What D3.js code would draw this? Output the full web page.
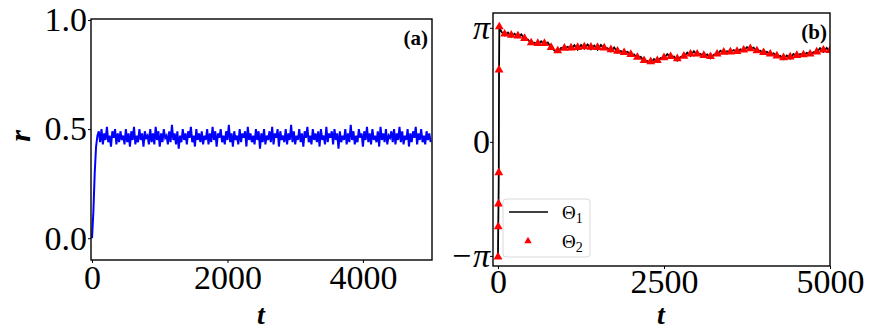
<!DOCTYPE html>
<html lang="en">
<head>
<meta charset="utf-8">
<title>r(t) and Theta(t)</title>
<script src="https://cdn.jsdelivr.net/npm/d3@7"></script>
<style>
  body { margin: 0; background: #fff; }
  svg { display: block; }
  text { font-family: "Liberation Serif", "Times New Roman", Times, serif; fill: #000; }
</style>
</head>
<body>
<script>

// panel (a): order parameter r, sampled every 20 time units from t = 0
var rStep = 20;
var rValues = [
  0.00, 0.12, 0.30, 0.42, 0.47,
  0.49,0.44,0.50,0.43,0.48,0.45,0.51,0.44,0.47,0.42,0.49,0.46,0.50,0.43,0.48,0.44,0.49,0.45,0.47,0.43,
  0.50,0.44,0.48,0.42,0.49,0.45,0.51,0.43,0.47,0.44,0.50,0.45,0.48,0.42,0.49,0.46,0.47,0.43,0.50,0.44,
  0.48,0.43,0.51,0.45,0.49,0.42,0.48,0.44,0.50,0.46,0.47,0.43,0.49,0.44,0.52,0.45,0.48,0.43,0.49,0.41,
  0.47,0.44,0.50,0.45,0.48,0.43,0.49,0.46,0.51,0.44,0.47,0.42,0.50,0.45,0.48,0.44,0.49,0.43,0.47,0.45,
  0.50,0.43,0.48,0.44,0.51,0.45,0.49,0.42,0.48,0.46,0.50,0.44,0.47,0.43,0.49,0.45,0.52,0.44,0.48,0.42,
  0.49,0.45,0.47,0.43,0.50,0.44,0.48,0.46,0.49,0.42,0.51,0.45,0.48,0.44,0.47,0.43,0.50,0.45,0.49,0.41,
  0.48,0.44,0.50,0.43,0.47,0.45,0.49,0.44,0.51,0.43,0.48,0.46,0.50,0.42,0.49,0.45,0.47,0.44,0.50,0.43,
  0.48,0.45,0.52,0.44,0.49,0.43,0.47,0.45,0.50,0.44,0.48,0.42,0.49,0.46,0.51,0.44,0.47,0.43,0.50,0.45,
  0.48,0.44,0.49,0.42,0.50,0.45,0.47,0.43,0.51,0.44,0.48,0.46,0.49,0.43,0.50,0.45,0.48,0.41,0.49,0.44,
  0.47,0.45,0.50,0.43,0.48,0.44,0.52,0.45,0.49,0.43,0.47,0.44,0.50,0.46,0.48,0.42,0.49,0.45,0.51,0.44,
  0.48,0.43,0.50,0.45,0.47,0.44,0.49,0.42,0.51,0.45,0.48,0.44,0.50,0.43,0.47,0.46,0.49,0.44,0.50,0.43,
  0.48,0.45,0.51,0.44,0.49,0.43,0.47,0.45,0.50,0.42,0.48,0.44,0.49,0.46,0.51,0.43,0.48,0.45,0.50,0.44,
  0.47,0.43,0.49,0.45,0.48,0.44
];
var rTicks = [0, 0.5, 1.0];
var tTicksA = [0, 2000, 4000];

// panel (b): phases, a short transient then regular samples
var transientT = [0, 4, 8, 12, 16, 20];
var transient1 = [-3.14, -2.30, -1.70, -0.85, 2.00, 3.15];
var transient2 = [-3.17, -2.34, -1.71, -0.85, 1.98, 3.17];
// theta1 every 50 time units from t = 50
var step1 = 50;
var theta1 = [
  3.04,2.93,3.01,2.90,2.98,2.88,2.96,2.84,2.82,2.71,
  2.73,2.68,2.77,2.69,2.74,2.60,2.52,2.47,2.59,2.58,
  2.62,2.55,2.66,2.54,2.67,2.57,2.68,2.55,2.65,2.54,
  2.67,2.57,2.58,2.49,2.60,2.46,2.50,2.45,2.48,2.39,
  2.41,2.31,2.34,2.22,2.23,2.17,2.28,2.20,2.31,2.30,
  2.42,2.33,2.35,2.24,2.34,2.34,2.46,2.37,2.50,2.39,
  2.42,2.36,2.41,2.30,2.40,2.40,2.51,2.45,2.50,2.47,
  2.53,2.46,2.55,2.50,2.61,2.56,2.60,2.49,2.51,2.44,
  2.48,2.40,2.44,2.35,2.37,2.28,2.38,2.29,2.42,2.36,
  2.42,2.38,2.45,2.40,2.47,2.46,2.58,2.48,2.59,2.48
];
// theta2 every 100 time units from t = 100
var step2 = 100;
var theta2 = [
  2.97,2.94,2.92,2.85,2.73,2.71,2.71,2.60,2.51,2.58,
  2.59,2.60,2.62,2.61,2.60,2.59,2.54,2.50,2.46,2.41,
  2.33,2.24,2.21,2.24,2.32,2.35,2.29,2.36,2.42,2.42,
  2.38,2.35,2.42,2.47,2.48,2.49,2.53,2.57,2.51,2.46,
  2.42,2.37,2.32,2.34,2.38,2.40,2.42,2.48,2.53,2.52
];
var thetaTicks = [-Math.PI, 0, Math.PI];
var thetaTickLabels = ["\u2212\u03c0", "0", "\u03c0"];
var tTicksB = [0, 2500, 5000];

var w = 872, h = 336;

var svg = d3.select("body").append("svg")
  .attr("width", w)
  .attr("height", h);

var defs = svg.append("defs");

// ---------- panel (a) ----------
var boxA = {left: 91, top: 19, right: 432, bottom: 260};

var xA = d3.scaleLinear().domain([-15, 5020]).range([boxA.left, boxA.right]);
var yA = d3.scaleLinear().domain([-0.1, 1.0]).range([boxA.bottom, 20]);

defs.append("clipPath").attr("id", "clipA")
  .append("rect")
  .attr("x", boxA.left).attr("y", boxA.top)
  .attr("width", boxA.right - boxA.left).attr("height", boxA.bottom - boxA.top);

var lineA = d3.line()
  .x(function(d, i) { return xA(i * rStep); })
  .y(function(d) { return yA(d); });

svg.append("path")
  .datum(rValues)
  .attr("clip-path", "url(#clipA)")
  .attr("d", lineA)
  .attr("fill", "none")
  .attr("stroke", "#0000ff")
  .attr("stroke-width", 2);

svg.append("rect")
  .attr("x", boxA.left).attr("y", boxA.top)
  .attr("width", boxA.right - boxA.left).attr("height", boxA.bottom - boxA.top)
  .attr("fill", "none").attr("stroke", "#000").attr("stroke-width", 1.4);

var axAy = svg.append("g")
  .attr("transform", "translate(" + boxA.left + ",0)")
  .call(d3.axisLeft(yA).tickValues(rTicks).tickFormat(d3.format(".1f")).tickSize(3).tickPadding(1));

var axAx = svg.append("g")
  .attr("transform", "translate(0," + boxA.bottom + ")")
  .call(d3.axisBottom(xA).tickValues(tTicksA).tickFormat(d3.format("d")).tickSize(3).tickPadding(2));

// ---------- panel (b) ----------
var boxB = {left: 493, top: 13, right: 830, bottom: 266};

var xB = d3.scaleLinear().domain([-75, 5000]).range([boxB.left, boxB.right]);
var yB = d3.scaleLinear().domain([-3.42, 3.55]).range([boxB.bottom, boxB.top]);

defs.append("clipPath").attr("id", "clipB")
  .append("rect")
  .attr("x", boxB.left).attr("y", boxB.top)
  .attr("width", boxB.right - boxB.left).attr("height", boxB.bottom - boxB.top);

var series1 = transientT.map(function(t, i) { return [t, transient1[i]]; })
  .concat(theta1.map(function(v, i) { return [(i + 1) * step1, v]; }));
var series2 = transientT.map(function(t, i) { return [t, transient2[i]]; })
  .concat(theta2.map(function(v, i) { return [(i + 1) * step2, v]; }));

var lineB = d3.line()
  .x(function(d) { return xB(d[0]); })
  .y(function(d) { return yB(d[1]); });

svg.append("path")
  .datum(series1)
  .attr("clip-path", "url(#clipB)")
  .attr("d", lineB)
  .attr("fill", "none")
  .attr("stroke", "#000")
  .attr("stroke-width", 1.8);

var tri = d3.symbol().type(d3.symbolTriangle).size(34);

svg.append("g")
  .attr("clip-path", "url(#clipB)")
  .selectAll("path")
  .data(series2)
  .enter()
  .append("path")
  .attr("d", tri)
  .attr("transform", function(d) { return "translate(" + xB(d[0]) + "," + yB(d[1]) + ")"; })
  .attr("fill", "#ff0000");

svg.append("rect")
  .attr("x", boxB.left).attr("y", boxB.top)
  .attr("width", boxB.right - boxB.left).attr("height", boxB.bottom - boxB.top)
  .attr("fill", "none").attr("stroke", "#000").attr("stroke-width", 1.4);

var axBy = svg.append("g")
  .attr("transform", "translate(" + boxB.left + ",0)")
  .call(d3.axisLeft(yB).tickValues(thetaTicks)
    .tickFormat(function(d, i) { return thetaTickLabels[i]; })
    .tickSize(3).tickPadding(0));

var axBx = svg.append("g")
  .attr("transform", "translate(0," + boxB.bottom + ")")
  .call(d3.axisBottom(xB).tickValues(tTicksB).tickFormat(d3.format("d")).tickSize(3).tickPadding(0));

// axis styling
[axAy, axAx, axBy, axBx].forEach(function(g) {
  g.attr("font-family", null);
  g.select(".domain").remove();
  g.selectAll(".tick line").attr("stroke", "#000").attr("stroke-width", 1);
  g.selectAll(".tick text")
    .style("font-family", "'Liberation Serif', 'Times New Roman', serif")
    .attr("font-size", 34)
    .attr("fill", "#000");
});
axBy.selectAll(".tick text")
  .filter(function(d) { return d !== 0; })
  .attr("font-style", "italic");

// axis titles
svg.append("text")
  .attr("transform", "translate(30,136) rotate(-90)")
  .attr("text-anchor", "middle")
  .attr("font-size", 30).attr("font-weight", "bold").attr("font-style", "italic")
  .text("r");

svg.append("text")
  .attr("x", 261).attr("y", 324)
  .attr("text-anchor", "middle")
  .attr("font-size", 28).attr("font-weight", "bold").attr("font-style", "italic")
  .text("t");

svg.append("text")
  .attr("x", 661).attr("y", 324)
  .attr("text-anchor", "middle")
  .attr("font-size", 28).attr("font-weight", "bold").attr("font-style", "italic")
  .text("t");

// panel tags
svg.append("text")
  .attr("x", 428).attr("y", 45)
  .attr("text-anchor", "end")
  .attr("font-size", 21).attr("font-weight", "bold")
  .text("(a)");

svg.append("text")
  .attr("x", 827).attr("y", 39)
  .attr("text-anchor", "end")
  .attr("font-size", 21).attr("font-weight", "bold")
  .text("(b)");

// legend
var legend = svg.append("g");
legend.append("rect")
  .attr("x", 503).attr("y", 199)
  .attr("width", 87).attr("height", 58)
  .attr("rx", 3)
  .attr("fill", "#fff").attr("fill-opacity", 0.8)
  .attr("stroke", "#d9d9d9").attr("stroke-width", 1);

legend.append("line")
  .attr("x1", 509).attr("x2", 548)
  .attr("y1", 212).attr("y2", 212)
  .attr("stroke", "#000").attr("stroke-width", 1.6);

legend.append("path")
  .attr("d", d3.symbol().type(d3.symbolTriangle).size(24))
  .attr("transform", "translate(528,241)")
  .attr("fill", "#ff0000");

var legendLabels = ["1", "2"];
legend.selectAll("text.lab")
  .data(legendLabels)
  .enter()
  .append("text")
  .attr("class", "lab")
  .attr("x", 562)
  .attr("y", function(d, i) { return 219 + i * 29; })
  .attr("font-size", 19)
  .each(function(d) {
    var t = d3.select(this);
    t.append("tspan").text("\u0398");
    t.append("tspan").attr("font-size", 14).attr("dy", 4).text(d);
  });

</script>
</body>
</html>
